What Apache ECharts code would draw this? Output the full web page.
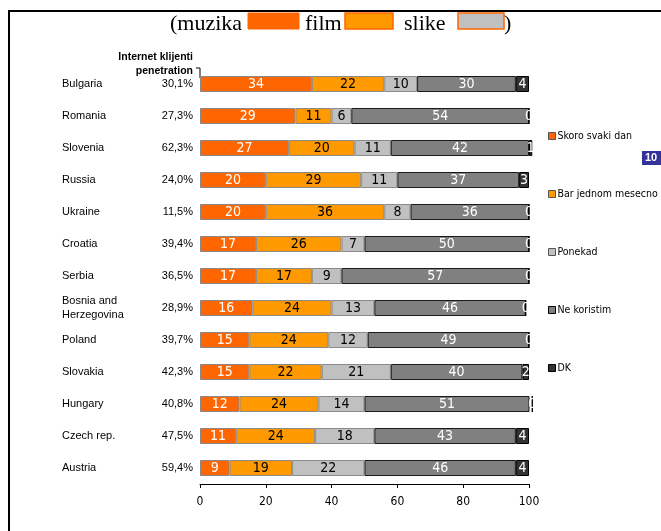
<!DOCTYPE html>
<html>
<head>
<meta charset="utf-8">
<script src="https://cdn.jsdelivr.net/npm/echarts@6/dist/echarts.min.js"></script>
<style>html,body{margin:0;padding:0;background:#fff;}#c{width:661px;height:531px;}</style>
</head>
<body>
<div id="c"></div>
<script>
const countries = ["Bulgaria","Romania","Slovenia","Russia","Ukraine","Croatia","Serbia","Bosnia and\nHerzegovina","Poland","Slovakia","Hungary","Czech rep.","Austria"];
const penetration = ["30,1%","27,3%","62,3%","24,0%","11,5%","39,4%","36,5%","28,9%","39,7%","42,3%","40,8%","47,5%","59,4%"];
const seriesNames = ["Skoro svaki dan","Bar jednom mesecno","Ponekad","Ne koristim","DK"];
const skoroSvakiDan = [34,29,27,20,20,17,17,16,15,15,12,11,9];
const barJednomMesecno = [22,11,20,29,36,26,17,24,24,22,24,24,19];
const ponekad = [10,6,11,11,8,7,9,13,12,21,14,18,22];
const neKoristim = [30,54,42,37,36,50,57,46,49,40,51,43,46];
const dk = [4,0,1,3,0,0,0,0,0,2,0,4,4];
const xTicks = {min:0, max:100, interval:20};

const narrow = "'DejaVu Sans Condensed','Liberation Sans Narrow','Arial Narrow',sans-serif";
const colors = ['#FF6600','#FF9900','#C0C0C0','#808080','#333333'];
const labelColors = ['#fff','#000','#000','#fff','#fff'];
const borderColors = ['#8a8a8a','#8a8a8a','#8a8a8a','#1a1a1a','#000'];
const values = [skoroSvakiDan, barJednomMesecno, ponekad, neKoristim, dk];

const chart = echarts.init(document.getElementById('c'));
chart.setOption({
  animation:false,
  backgroundColor:'#fff',
  grid:{left:200, right:132, top:68, bottom:47, containLabel:false},
  legend:{
    orient:'vertical', left:543, top:124, itemWidth:7, itemHeight:7, itemGap:44,
    icon:'rect',
    textStyle:{fontFamily:narrow, fontSize:10.5, color:'#000', lineHeight:14, padding:[0,0,0,-3]},
    data:seriesNames.map((n,i)=>({name:n, itemStyle:{borderColor:i<3?'#555':'#000', borderWidth:1}}))
  },
  xAxis:{type:'value', min:xTicks.min, max:xTicks.max, interval:xTicks.interval,
    axisLine:{show:true, lineStyle:{color:'#000', width:1}},
    axisTick:{show:true, length:4, lineStyle:{color:'#000'}},
    splitLine:{show:false},
    axisLabel:{fontFamily:narrow, fontSize:12, color:'#000', margin:12}
  },
  yAxis:[
    {type:'category', data:countries, inverse:true, position:'left',
      axisLine:{show:false}, axisTick:{show:false},
      axisLabel:{align:'left', margin:138, fontFamily:'Arial, Liberation Sans, sans-serif', fontSize:11, color:'#000', lineHeight:14}
    },
    {type:'category', data:penetration, inverse:true, position:'left',
      axisLine:{show:false}, axisTick:{show:false},
      axisLabel:{align:'right', margin:7, fontFamily:'Arial, Liberation Sans, sans-serif', fontSize:11, color:'#000'}
    }
  ],
  series:seriesNames.map((n,i)=>({
    name:n, type:'bar', stack:'s', yAxisIndex:0, barWidth:16,
    clip: i !== 4,
    data:values[i],
    itemStyle:{color:colors[i], borderColor:borderColors[i], borderWidth:1},
    label:{show:true, position:'inside', color:labelColors[i], fontFamily:narrow, fontSize:14}
  })),
  graphic:[
    {type:'rect', shape:{x:9, y:11, width:720, height:600}, style:{fill:'none', stroke:'#000', lineWidth:2}, silent:true},
    {type:'text', x:170, y:35, style:{text:'(muzika', font:"22px 'Liberation Serif','Times New Roman',serif", fill:'#000', textVerticalAlign:'bottom'}},
    {type:'rect', shape:{x:248, y:13, width:51, height:16}, style:{fill:'#FF6600', stroke:'#FF6600', lineWidth:1}},
    {type:'text', x:305, y:35, style:{text:'film', font:"22px 'Liberation Serif','Times New Roman',serif", fill:'#000', textVerticalAlign:'bottom'}},
    {type:'rect', shape:{x:345, y:13, width:48, height:16}, style:{fill:'#FF9900', stroke:'#FF6600', lineWidth:1.5}},
    {type:'text', x:404, y:35, style:{text:'slike', font:"22px 'Liberation Serif','Times New Roman',serif", fill:'#000', textVerticalAlign:'bottom'}},
    {type:'rect', shape:{x:458, y:13, width:46, height:16}, style:{fill:'#C0C0C0', stroke:'#FF6600', lineWidth:1.5}},
    {type:'text', x:504, y:35, style:{text:')', font:"22px 'Liberation Serif','Times New Roman',serif", fill:'#000', textVerticalAlign:'bottom'}},
    {type:'text', x:193, y:57, style:{text:'Internet klijenti', font:"bold 10.5px Arial, 'Liberation Sans', sans-serif", fill:'#000', textAlign:'right', textVerticalAlign:'middle'}},
    {type:'text', x:193, y:71, style:{text:'penetration', font:"bold 10.5px Arial, 'Liberation Sans', sans-serif", fill:'#000', textAlign:'right', textVerticalAlign:'middle'}},
    {type:'line', shape:{x1:196, y1:68, x2:200, y2:68}, style:{stroke:'#000', lineWidth:1}},
    {type:'line', shape:{x1:200, y1:68, x2:200, y2:78}, style:{stroke:'#000', lineWidth:1}},
    {type:'rect', shape:{x:642, y:151, width:22, height:14}, style:{fill:'#333399'}},
    {type:'text', x:645, y:158, style:{text:'10', font:"bold 11px Arial, 'Liberation Sans', sans-serif", fill:'#fff', textVerticalAlign:'middle'}}
  ]
});
</script>
</body>
</html>
